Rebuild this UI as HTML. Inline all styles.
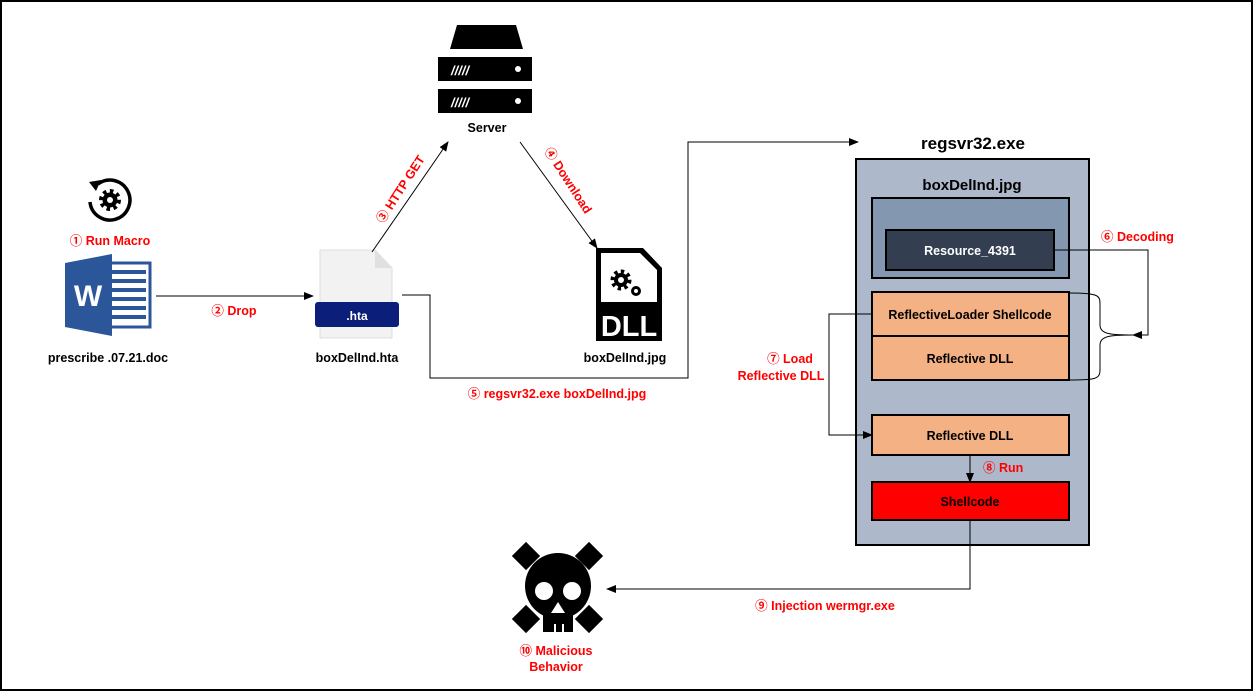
<!DOCTYPE html>
<html><head><meta charset="utf-8"><style>
html,body{margin:0;padding:0;background:#fff}
svg{display:block}
text{font-family:"Liberation Sans","Noto Sans CJK KR",sans-serif;font-weight:bold}
.r{fill:#ff0000;font-size:12.5px}
.k{fill:#000;font-size:12.5px}
</style></head><body>
<svg width="1253" height="691" viewBox="0 0 1253 691" xmlns="http://www.w3.org/2000/svg">
<defs>
<marker id="a" markerWidth="10" markerHeight="8" refX="9" refY="4" orient="auto" markerUnits="userSpaceOnUse"><path d="M0,0 L10,4 L0,8 z" fill="#000"/></marker>
</defs>
<rect x="1" y="1" width="1251" height="689" fill="#fff" stroke="#000" stroke-width="2"/>

<!-- gear icon -->
<path d="M98,184 A20,20 0 1 1 90,202" fill="none" stroke="#000" stroke-width="3.5"/>
<path d="M89,182 L101,180 L96,191 z" fill="#000"/>
<circle cx="110" cy="200" r="7.5" fill="#000"/>
<circle cx="110" cy="200" r="9" fill="none" stroke="#000" stroke-width="4" stroke-dasharray="3.5 3.5"/>
<circle cx="110" cy="200" r="3" fill="#fff"/>
<text x="110" y="245" class="r" text-anchor="middle">① Run Macro</text>
<!-- word icon -->
<rect x="100" y="263" width="50" height="64" fill="#fff" stroke="#2b579a" stroke-width="3"/>
<g fill="#2b579a"><rect x="110" y="270" width="36" height="4"/><rect x="110" y="279" width="36" height="4"/><rect x="110" y="288" width="36" height="4"/><rect x="110" y="297" width="36" height="4"/><rect x="110" y="306" width="36" height="4"/><rect x="110" y="315" width="36" height="4"/></g>
<path d="M65,263 L112,254 L112,336 L65,327 z" fill="#2b579a"/>
<text x="88" y="306" fill="#fff" font-size="30" text-anchor="middle">W</text>
<text x="108" y="362" class="k" text-anchor="middle">prescribe .07.21.doc</text>

<line x1="156" y1="296" x2="313" y2="296" stroke="#000" marker-end="url(#a)"/>
<text x="234" y="315" class="r" text-anchor="middle">② Drop</text>

<!-- hta file -->
<path d="M320,250 L375,250 L392,268 L392,338 L320,338 z" fill="#f2f2f2" stroke="#ddd"/>
<path d="M375,250 L375,268 L392,268" fill="#e0e0e0"/>
<rect x="315" y="302" width="84" height="25" rx="3" fill="#0b1f7a"/>
<text x="357" y="320" fill="#fff" font-size="12" font-weight="normal" text-anchor="middle">.hta</text>
<text x="357" y="362" class="k" text-anchor="middle">boxDelInd.hta</text>

<!-- server -->
<path d="M457,25 L516,25 L523,49 L450,49 z" fill="#000"/>
<rect x="438" y="57" width="94" height="24" fill="#000"/>
<rect x="438" y="89" width="94" height="24" fill="#000"/>
<g fill="#fff"><text x="451" y="75" font-size="13" font-style="italic">/////</text><text x="451" y="107" font-size="13" font-style="italic">/////</text></g>
<circle cx="518" cy="69" r="3" fill="#fff"/><circle cx="518" cy="101" r="3" fill="#fff"/>
<text x="487" y="132" class="k" text-anchor="middle">Server</text>

<line x1="372" y1="252" x2="448" y2="142" stroke="#000" marker-end="url(#a)"/>
<text x="0" y="0" class="r" transform="translate(383,224) rotate(-57)">③ HTTP GET</text>
<line x1="520" y1="142" x2="597" y2="248" stroke="#000" marker-end="url(#a)"/>
<text x="0" y="0" class="r" transform="translate(544,151) rotate(57)">④ Download</text>

<!-- DLL icon -->
<path d="M596,248 L643,248 L662,268 L662,341 L596,341 z" fill="#000"/>
<path d="M601,253 L640,253 L657,270 L657,302 L601,302 z" fill="#fff"/>
<circle cx="621" cy="280" r="7" fill="#000"/>
<circle cx="621" cy="280" r="8.5" fill="none" stroke="#000" stroke-width="4" stroke-dasharray="3.3 3.3"/>
<circle cx="621" cy="280" r="3" fill="#fff"/>
<circle cx="636" cy="291" r="5" fill="#000"/><circle cx="636" cy="291" r="2" fill="#fff"/>
<text x="629" y="336" fill="#fff" font-size="29" text-anchor="middle">DLL</text>
<text x="625" y="362" class="k" text-anchor="middle">boxDelInd.jpg</text>

<polyline points="402,295 430,295 430,378 688,378 688,142 858,142" fill="none" stroke="#000" marker-end="url(#a)"/>
<text x="557" y="398" class="r" text-anchor="middle">⑤ regsvr32.exe boxDelInd.jpg</text>

<!-- regsvr box -->
<text x="973" y="149" fill="#000" font-size="17" text-anchor="middle">regsvr32.exe</text>
<rect x="856" y="159" width="233" height="386" fill="#adb9ca" stroke="#000" stroke-width="2"/>
<text x="972" y="190" fill="#000" font-size="15" text-anchor="middle">boxDelInd.jpg</text>
<rect x="872" y="198" width="197" height="80" fill="#8497b0" stroke="#000" stroke-width="2"/>
<rect x="886" y="230" width="168" height="40" fill="#333f50" stroke="#000" stroke-width="2"/>
<text x="970" y="255" fill="#fff" font-size="12.5" text-anchor="middle">Resource_4391</text>
<rect x="872" y="292" width="197" height="44" fill="#f4b183" stroke="#000" stroke-width="2"/>
<text x="970" y="319" class="k" text-anchor="middle">ReflectiveLoader Shellcode</text>
<rect x="872" y="336" width="197" height="44" fill="#f4b183" stroke="#000" stroke-width="2"/>
<text x="970" y="363" class="k" text-anchor="middle">Reflective DLL</text>
<rect x="872" y="415" width="197" height="40" fill="#f4b183" stroke="#000" stroke-width="2"/>
<text x="970" y="440" class="k" text-anchor="middle">Reflective DLL</text>
<rect x="872" y="482" width="197" height="38" fill="#ff0000" stroke="#000" stroke-width="2"/>
<text x="970" y="506" class="k" text-anchor="middle">Shellcode</text>
<line x1="970" y1="455" x2="970" y2="482" stroke="#000" marker-end="url(#a)"/>
<text x="983" y="472" class="r">⑧ Run</text>

<path d="M1070,293 C1100,293 1100,296 1100,305 L1100,325 C1100,334 1110,335 1133,335 C1110,335 1100,336 1100,345 L1100,370 C1100,379 1095,380 1070,380" fill="none" stroke="#000"/>
<polyline points="1054,250 1148,250 1148,335 1133,335" fill="none" stroke="#000" marker-end="url(#a)"/>
<text x="1101" y="241" class="r">⑥ Decoding</text>

<polyline points="872,314 829,314 829,435 872,435" fill="none" stroke="#000" marker-end="url(#a)"/>
<text x="790" y="363" class="r" text-anchor="middle">⑦ Load</text>
<text x="781" y="380" class="r" text-anchor="middle">Reflective DLL</text>

<polyline points="970,520 970,589 607,589" fill="none" stroke="#000" marker-end="url(#a)"/>
<text x="825" y="610" class="r" text-anchor="middle">⑨ Injection wermgr.exe</text>

<!-- skull -->
<g fill="#000">
<rect x="516" y="546" width="20" height="20" transform="rotate(45 526 556)"/>
<rect x="579" y="546" width="20" height="20" transform="rotate(45 589 556)"/>
<rect x="516" y="609" width="20" height="20" transform="rotate(45 526 619)"/>
<rect x="579" y="609" width="20" height="20" transform="rotate(45 589 619)"/>
<circle cx="558" cy="586" r="33"/>
<rect x="543" y="600" width="30" height="32"/>
</g>
<circle cx="544" cy="591" r="9" fill="#fff"/><circle cx="572" cy="591" r="9" fill="#fff"/>
<path d="M558,602 L565,613 L551,613 z" fill="#fff"/>
<rect x="554" y="624" width="2" height="8" fill="#fff"/><rect x="562" y="624" width="2" height="8" fill="#fff"/>
<text x="556" y="655" class="r" text-anchor="middle">⑩ Malicious</text>
<text x="556" y="671" class="r" text-anchor="middle">Behavior</text>
</svg>
</body></html>
